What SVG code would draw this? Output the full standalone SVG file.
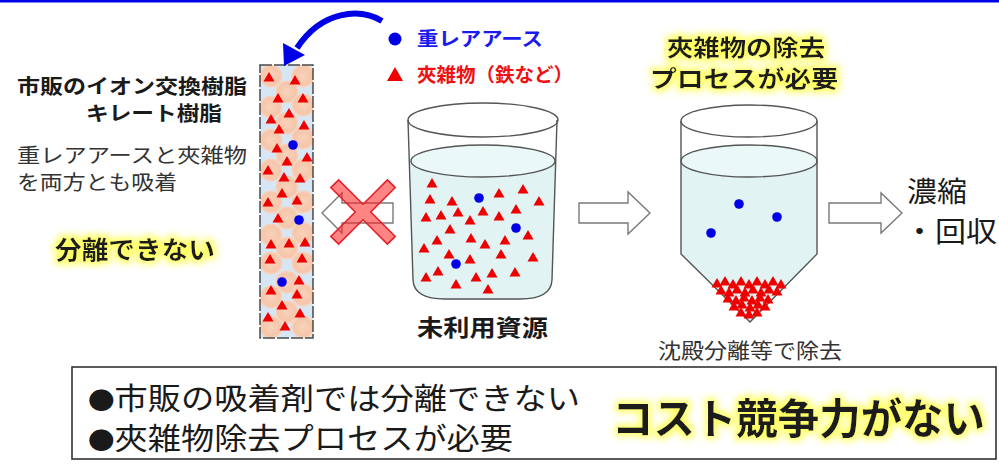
<svg xmlns="http://www.w3.org/2000/svg" xmlns:xlink="http://www.w3.org/1999/xlink" width="999" height="466" viewBox="0 0 999 466">
  <style>
    .jp { font-family: "Noto Sans CJK JP", "Noto Sans", sans-serif; }
    .b { font-weight: 700; }
    .ink { fill: #1a1a1a; }
    .gray { fill: #333333; }
    .vessel { fill: none; stroke: #555555; stroke-width: 1.4; }
    .water { fill: #e1f3f3; }
    .hollow { fill: #ffffff; stroke: #7a7a7a; stroke-width: 1.4; stroke-linejoin: miter; }
  </style>
  <defs>
    <radialGradient id="beadFill" cx="0.5" cy="0.5" r="0.55">
      <stop offset="0" stop-color="#f8d2bb"/>
      <stop offset="0.7" stop-color="#f5c6aa"/>
      <stop offset="1" stop-color="#f9dccb"/>
    </radialGradient>
    <circle id="bead" r="11.5" fill="url(#beadFill)"/>
    <path id="tri" d="M0,-5 L5.5,4.5 L-5.5,4.5 Z" fill="#ee0000"/>
    <circle id="dot" r="4.8" fill="#0000e6"/>
    <filter id="glow" x="-15%" y="-50%" width="130%" height="200%">
      <feMorphology in="SourceAlpha" operator="dilate" radius="3" result="d"/>
      <feGaussianBlur in="d" stdDeviation="3.5" result="b"/>
      <feFlood flood-color="#ffff66"/>
      <feComposite in2="b" operator="in" result="g"/>
      <feMerge><feMergeNode in="g"/><feMergeNode in="SourceGraphic"/></feMerge>
    </filter>
    <clipPath id="colClip"><rect x="260" y="65" width="53" height="273"/></clipPath>
  </defs>

  <rect width="999" height="466" fill="#ffffff"/>
  <rect x="0" y="0" width="999" height="2.5" fill="#0000e6"/>

  <!-- left caption -->
  <g id="resin-label" class="jp">
    <text x="17" y="94" font-size="20" class="b ink" textLength="230" lengthAdjust="spacingAndGlyphs">市販のイオン交換樹脂</text>
    <text x="86" y="121" font-size="20" class="b ink" textLength="136" lengthAdjust="spacingAndGlyphs">キレート樹脂</text>
    <text x="17" y="163" font-size="20" class="gray" textLength="230" lengthAdjust="spacingAndGlyphs">重レアアースと夾雑物</text>
    <text x="17" y="190" font-size="20" class="gray" textLength="160" lengthAdjust="spacingAndGlyphs">を両方とも吸着</text>
    <text x="55" y="259" font-size="25" class="b ink" filter="url(#glow)" textLength="160" lengthAdjust="spacingAndGlyphs">分離できない</text>
  </g>

  <!-- resin column -->
  <g id="resin-column">
    <rect x="260" y="65" width="53" height="273" fill="#d6e6f4"/>
    <g clip-path="url(#colClip)">
      <use href="#bead" x="271" y="76"/><use href="#bead" x="303" y="76"/><use href="#bead" x="287" y="92"/>
      <use href="#bead" x="271" y="107"/><use href="#bead" x="303" y="105"/><use href="#bead" x="287" y="123"/>
      <use href="#bead" x="271" y="140"/><use href="#bead" x="303" y="138"/><use href="#bead" x="287" y="155"/>
      <use href="#bead" x="271" y="170"/><use href="#bead" x="303" y="170"/><use href="#bead" x="287" y="187"/>
      <use href="#bead" x="271" y="202"/><use href="#bead" x="303" y="202"/><use href="#bead" x="287" y="218"/>
      <use href="#bead" x="271" y="235"/><use href="#bead" x="303" y="233"/><use href="#bead" x="287" y="248"/>
      <use href="#bead" x="271" y="263"/><use href="#bead" x="303" y="263"/><use href="#bead" x="287" y="282"/>
      <use href="#bead" x="271" y="297"/><use href="#bead" x="303" y="295"/><use href="#bead" x="287" y="312"/>
      <use href="#bead" x="271" y="327"/><use href="#bead" x="303" y="327"/>
    </g>
    <use href="#tri" x="269" y="77"/><use href="#tri" x="295" y="80"/><use href="#tri" x="278" y="98"/>
    <use href="#tri" x="303" y="98"/><use href="#tri" x="271" y="119"/><use href="#tri" x="289" y="113"/>
    <use href="#tri" x="279" y="129"/><use href="#tri" x="304" y="125"/><use href="#tri" x="277" y="148"/>
    <use href="#tri" x="287" y="161"/><use href="#tri" x="307" y="157"/><use href="#tri" x="268" y="170"/>
    <use href="#tri" x="284" y="177"/><use href="#tri" x="300" y="178"/><use href="#tri" x="282" y="193"/>
    <use href="#tri" x="268" y="202"/><use href="#tri" x="297" y="200"/><use href="#tri" x="278" y="218"/>
    <use href="#tri" x="271" y="244"/><use href="#tri" x="289" y="243"/><use href="#tri" x="305" y="242"/>
    <use href="#tri" x="270" y="259"/><use href="#tri" x="302" y="258"/><use href="#tri" x="299" y="280"/>
    <use href="#tri" x="271" y="290"/><use href="#tri" x="297" y="294"/><use href="#tri" x="282" y="305"/>
    <use href="#tri" x="300" y="313"/><use href="#tri" x="268" y="317"/><use href="#tri" x="285" y="326"/>
    <use href="#dot" x="293" y="145"/><use href="#dot" x="299" y="220"/><use href="#dot" x="282" y="282"/>
    <rect x="260" y="65" width="53" height="273" fill="none" stroke="#4a4a4a" stroke-width="1.5" stroke-dasharray="12 2"/>
  </g>

  <!-- legend -->
  <g id="legend" class="jp b">
    <circle cx="395" cy="39" r="6.5" fill="#0000e6"/>
    <text x="417" y="46" font-size="19" fill="#1a1aee" textLength="126" lengthAdjust="spacingAndGlyphs">重レアアース</text>
    <path d="M395,67 L403,81 L387,81 Z" fill="#ee0000"/>
    <text x="417" y="82" font-size="19" fill="#ee1111" textLength="156" lengthAdjust="spacingAndGlyphs">夾雑物（鉄など）</text>
  </g>

  <!-- raw resource beaker -->
  <g id="beaker-raw">
    <path class="water" d="M410,161 A73,16 0 0 1 556,161 L552,280 Q551,299 520,299 L445,299 Q414,299 413,280 Z"/>
    <ellipse cx="483" cy="161" rx="72" ry="16" fill="#eaf8f8" stroke="#555555" stroke-width="1.4"/>
    <ellipse class="vessel" cx="483" cy="120" rx="75" ry="17"/>
    <path class="vessel" d="M408,120 L413,280 Q414,299 445,299 L520,299 Q551,299 552,280 L557,120"/>
    <use href="#tri" x="432" y="183"/><use href="#tri" x="430" y="199"/><use href="#tri" x="452" y="201"/>
    <use href="#tri" x="499" y="193"/><use href="#tri" x="523" y="189"/><use href="#tri" x="539" y="201"/>
    <use href="#tri" x="426" y="217"/><use href="#tri" x="441" y="215"/><use href="#tri" x="458" y="212"/>
    <use href="#tri" x="470" y="220"/><use href="#tri" x="483" y="211"/><use href="#tri" x="499" y="216"/>
    <use href="#tri" x="516" y="209"/><use href="#tri" x="450" y="229"/><use href="#tri" x="437" y="240"/>
    <use href="#tri" x="471" y="238"/><use href="#tri" x="485" y="244"/><use href="#tri" x="505" y="240"/>
    <use href="#tri" x="528" y="235"/><use href="#tri" x="424" y="248"/><use href="#tri" x="449" y="254"/>
    <use href="#tri" x="470" y="259"/><use href="#tri" x="501" y="254"/><use href="#tri" x="533" y="257"/>
    <use href="#tri" x="438" y="271"/><use href="#tri" x="426" y="277"/><use href="#tri" x="476" y="277"/>
    <use href="#tri" x="492" y="273"/><use href="#tri" x="515" y="272"/><use href="#tri" x="456" y="284"/>
    <use href="#tri" x="488" y="289"/>
    <use href="#dot" x="479" y="198"/><use href="#dot" x="516" y="228"/><use href="#dot" x="456" y="264"/>
    <text x="417" y="336" font-size="23" class="jp b ink" textLength="131" lengthAdjust="spacingAndGlyphs">未利用資源</text>
  </g>

  <!-- settling vessel -->
  <g id="settling-vessel">
    <text class="jp b ink" font-size="23" filter="url(#glow)">
      <tspan x="667" y="56" textLength="158" lengthAdjust="spacingAndGlyphs">夾雑物の除去</tspan>
      <tspan x="650" y="87" textLength="188" lengthAdjust="spacingAndGlyphs">プロセスが必要</tspan>
    </text>
    <path class="water" d="M681,161 A68,16 0 0 1 817,161 L817,254 L750,322 L681,254 Z"/>
    <ellipse cx="749" cy="161" rx="68" ry="16" fill="#eaf8f8" stroke="#555555" stroke-width="1.4"/>
    <ellipse class="vessel" cx="749" cy="121" rx="68" ry="16"/>
    <path class="vessel" d="M681,121 L681,254 L750,322 L817,254 L817,121"/>
    <use href="#dot" x="739" y="204"/><use href="#dot" x="777" y="217"/><use href="#dot" x="711" y="233"/>
    <g id="sediment">
      <use href="#tri" x="717" y="283"/><use href="#tri" x="725" y="281"/><use href="#tri" x="733" y="284"/>
      <use href="#tri" x="741" y="281"/><use href="#tri" x="749" y="284"/><use href="#tri" x="757" y="281"/>
      <use href="#tri" x="765" y="284"/><use href="#tri" x="773" y="281"/><use href="#tri" x="781" y="284"/>
      <use href="#tri" x="721" y="290"/><use href="#tri" x="729" y="292"/><use href="#tri" x="737" y="289"/>
      <use href="#tri" x="745" y="292"/><use href="#tri" x="753" y="289"/><use href="#tri" x="761" y="292"/>
      <use href="#tri" x="769" y="289"/><use href="#tri" x="777" y="291"/>
      <use href="#tri" x="728" y="298"/><use href="#tri" x="736" y="300"/><use href="#tri" x="744" y="297"/>
      <use href="#tri" x="752" y="300"/><use href="#tri" x="760" y="297"/><use href="#tri" x="768" y="299"/>
      <use href="#tri" x="734" y="306"/><use href="#tri" x="742" y="304"/><use href="#tri" x="750" y="307"/>
      <use href="#tri" x="758" y="304"/><use href="#tri" x="765" y="306"/>
      <use href="#tri" x="741" y="312"/><use href="#tri" x="749" y="314"/><use href="#tri" x="757" y="312"/>
    </g>
    <text x="658" y="358" font-size="21" class="jp gray" textLength="184" lengthAdjust="spacingAndGlyphs">沈殿分離等で除去</text>
  </g>

  <!-- recovery label -->
  <g id="recovery" class="jp ink">
    <text x="907" y="202" font-size="28" textLength="60" lengthAdjust="spacingAndGlyphs">濃縮</text>
    <text x="904" y="242" font-size="28" textLength="93" lengthAdjust="spacingAndGlyphs">・回収</text>
  </g>

  <!-- connectors -->
  <g id="connectors">
    <path d="M382,21 C360,8 322,10 297,48" fill="none" stroke="#0000e6" stroke-width="6"/>
    <path d="M284,66 L283,43 L305,55 Z" fill="#0000e6"/>
    <polygon class="hollow" points="322,213 342,193 342,203 393,203 393,223 342,223 342,233"/>
    <polygon transform="translate(363,212) rotate(45)" fill="#ff2020" fill-opacity="0.55" stroke="#e8202a" stroke-width="1.6" stroke-linejoin="miter"
      points="-5.5,-40 5.5,-40 5.5,-5.5 40,-5.5 40,5.5 5.5,5.5 5.5,40 -5.5,40 -5.5,5.5 -40,5.5 -40,-5.5 -5.5,-5.5"/>
    <polygon class="hollow" points="579,203 628,203 628,192 650,213 628,234 628,223 579,223"/>
    <polygon class="hollow" points="829,203 881,203 881,193 902,213 881,233 881,223 829,223"/>
  </g>

  <!-- summary box -->
  <g id="summary" class="jp">
    <rect x="72" y="367" width="924" height="92" fill="#ffffff" stroke="#333333" stroke-width="1.6"/>
    <text x="88" y="409" font-size="30" class="ink" textLength="492" lengthAdjust="spacingAndGlyphs"><tspan font-size="24">●</tspan>市販の吸着剤では分離できない</text>
    <text x="88" y="449" font-size="30" class="ink" textLength="425" lengthAdjust="spacingAndGlyphs"><tspan font-size="24">●</tspan>夾雑物除去プロセスが必要</text>
    <text x="612" y="434" font-size="42" class="b ink" filter="url(#glow)" textLength="373" lengthAdjust="spacingAndGlyphs">コスト競争力がない</text>
  </g>
</svg>
